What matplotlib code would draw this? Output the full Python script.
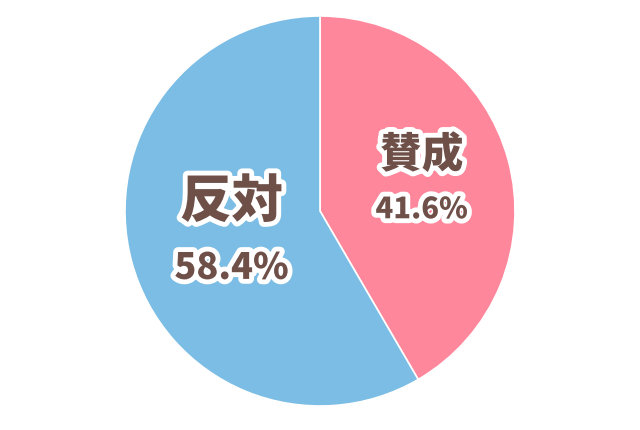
import numpy as np
import matplotlib.pyplot as plt
import matplotlib.patheffects as pe

plt.rcParams['font.family'] = ['Noto Sans CJK JP', 'DejaVu Sans']

# data
labels = ['賛成', '反対']
values = [41.6, 58.4]
colors = ['#FF879C', '#7BBDE4']
text_color = '#6E5049'

fig = plt.figure(figsize=(6.4, 4.3), dpi=100)
ax = fig.add_axes([0, 0, 1, 1])

cx, cy, r = 320, 219, 195
wedges, _ = ax.pie(values, colors=colors, startangle=90, counterclock=False,
                   center=(cx, cy), radius=r, frame=True,
                   wedgeprops=dict(edgecolor='white', linewidth=1.2))
ax.set_xlim(0, 640)
ax.set_ylim(0, 430)
ax.set_aspect('equal')
ax.axis('off')

outline = [pe.withStroke(linewidth=7, foreground='white')]
dist = [0.54, 0.47]
name_size = [30, 37]
pct_size = [21, 26]
gap = [(28, -26), (33, -33)]
for w, lab, v, d, ns, ps, g in zip(wedges, labels, values, dist, name_size, pct_size, gap):
    ang = np.deg2rad((w.theta1 + w.theta2) / 2)
    x = cx + d * r * np.cos(ang)
    y = cy + d * r * np.sin(ang)
    ax.text(x, y + g[0], lab, ha='center', va='center', fontsize=ns,
            fontweight='black', color=text_color, path_effects=outline)
    ax.text(x, y + g[1], f'{v:.1f}%', ha='center', va='center', fontsize=ps,
            fontweight='black', color=text_color, path_effects=outline)

fig.savefig('out.png', dpi=100, facecolor='white')
